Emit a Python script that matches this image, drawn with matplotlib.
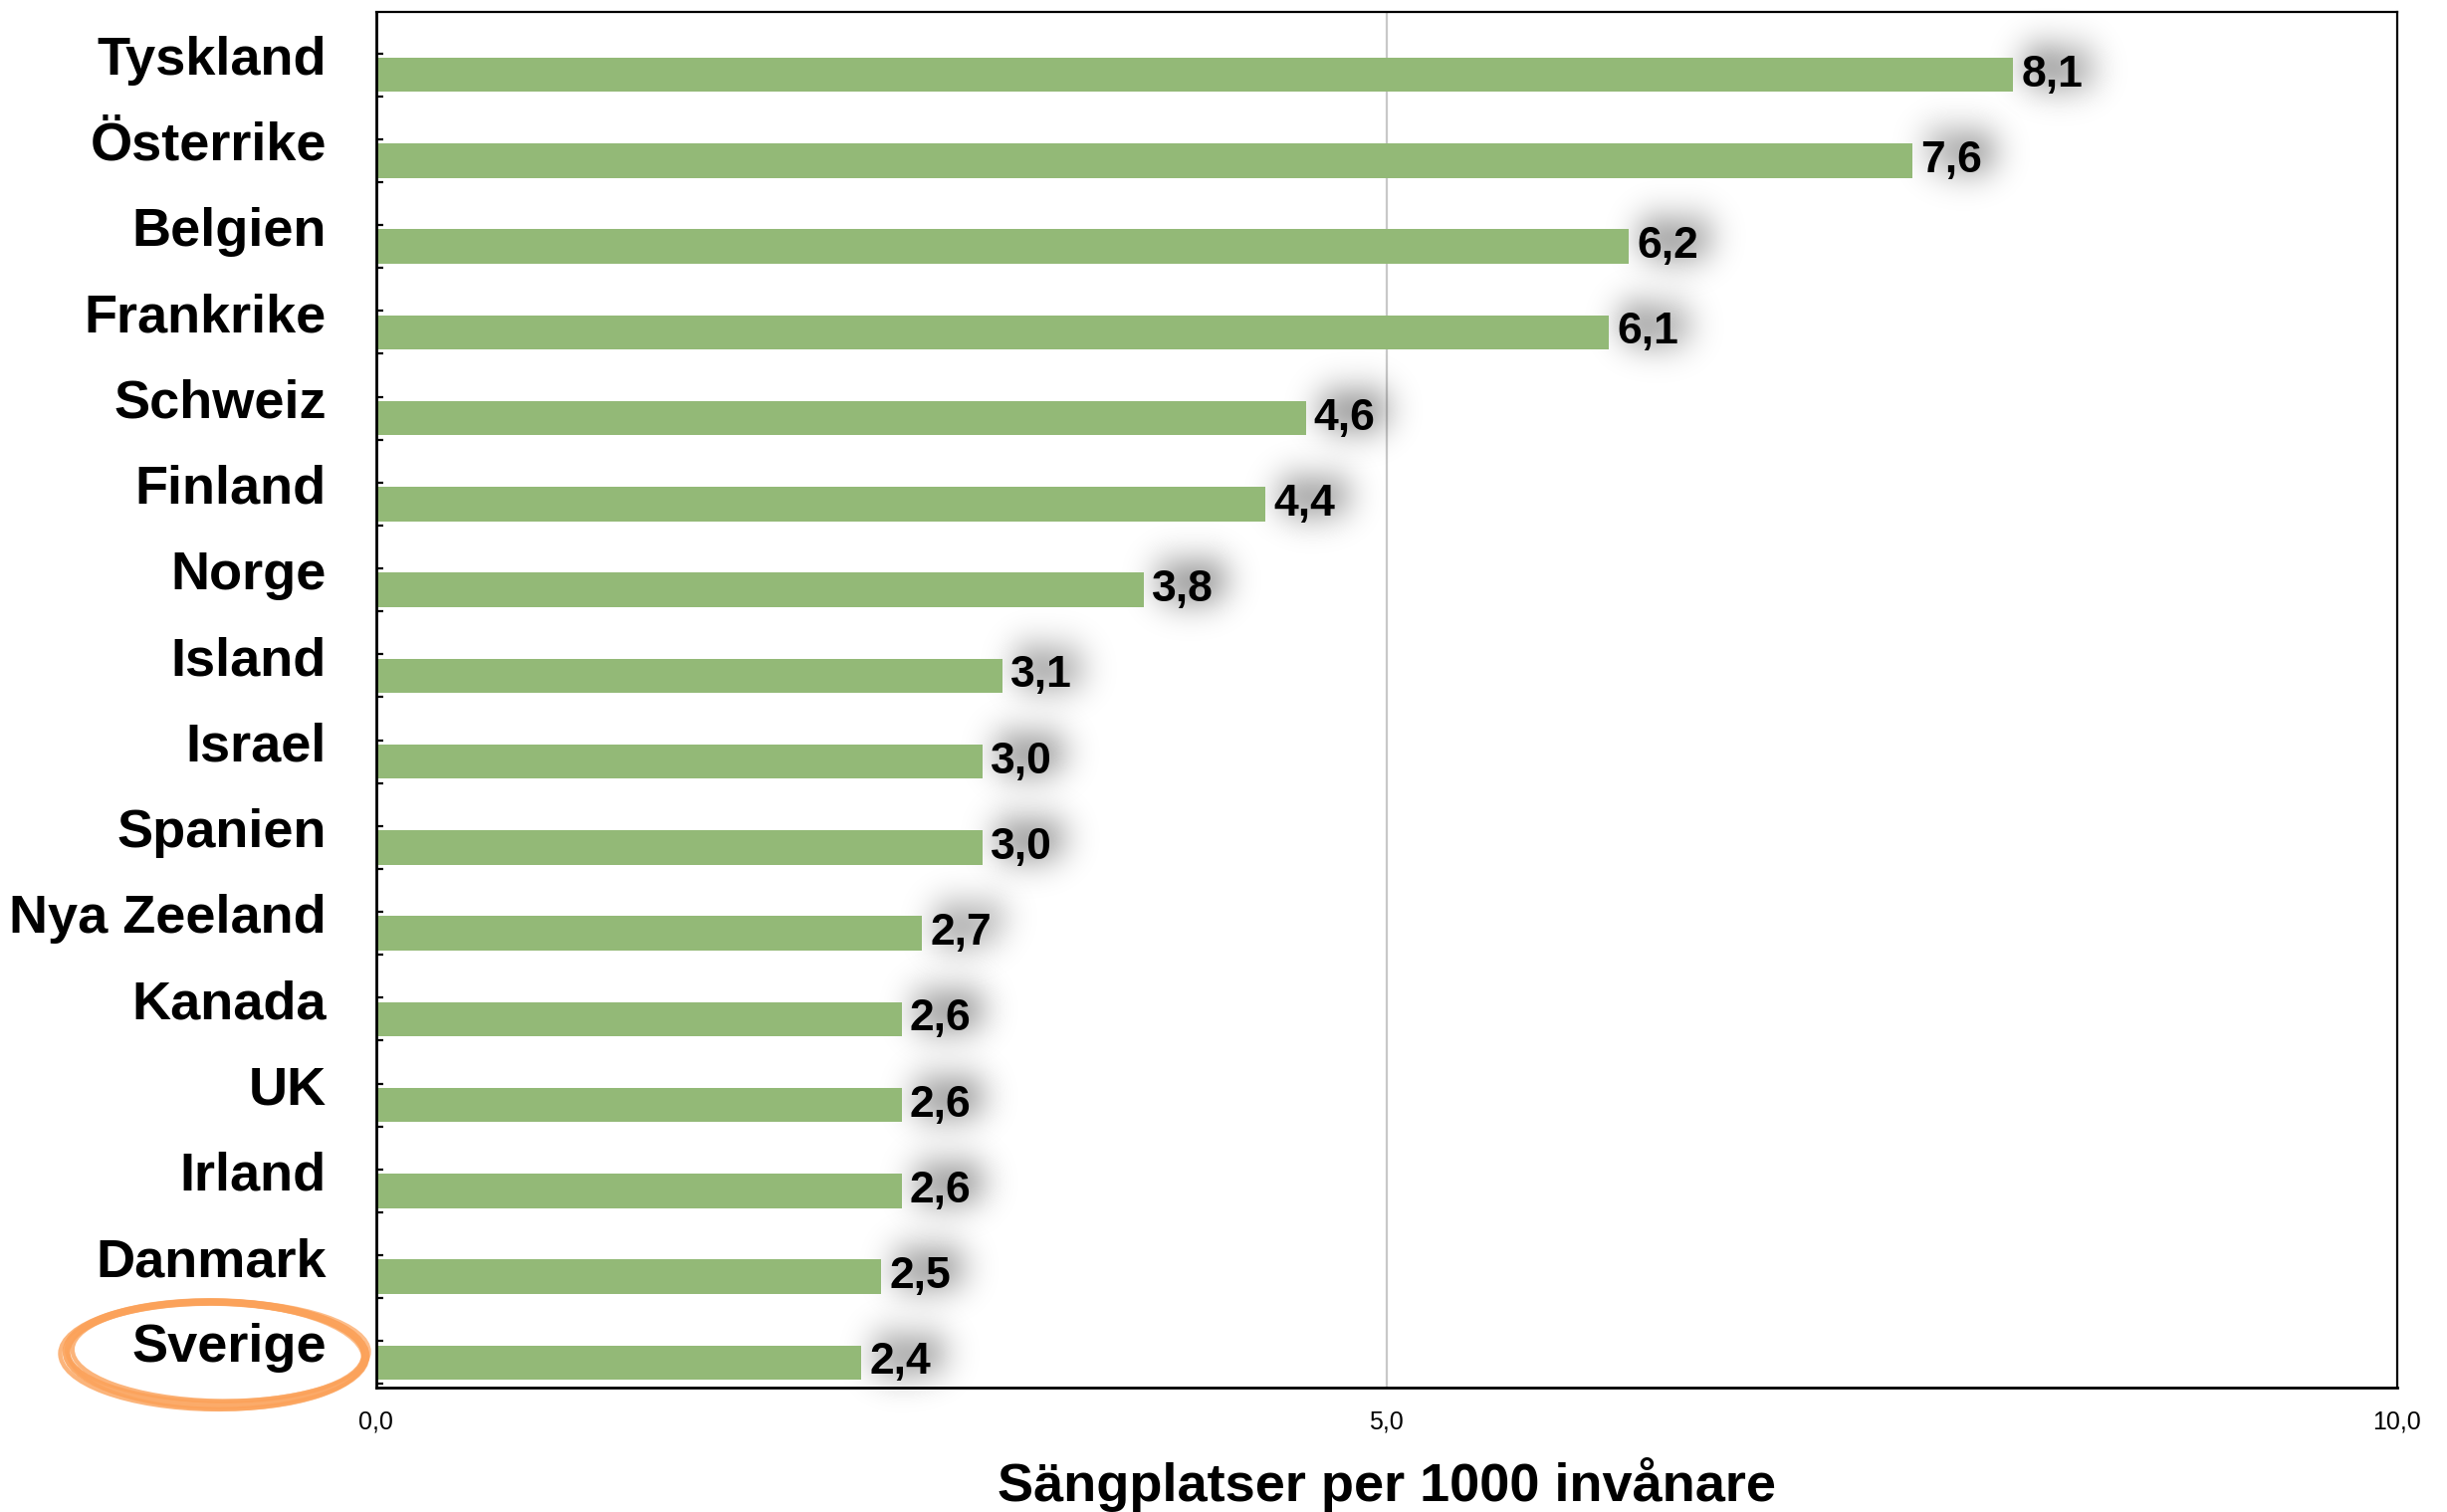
import numpy as np
import matplotlib
matplotlib.use("Agg")
import matplotlib.pyplot as plt
from matplotlib.patches import Ellipse

plt.rcParams['font.family'] = ['Liberation Sans', 'DejaVu Sans']

countries = ['Tyskland', 'Österrike', 'Belgien', 'Frankrike', 'Schweiz', 'Finland',
             'Norge', 'Island', 'Israel', 'Spanien', 'Nya Zeeland', 'Kanada',
             'UK', 'Irland', 'Danmark', 'Sverige']
values = [8.1, 7.6, 6.2, 6.1, 4.6, 4.4, 3.8, 3.1, 3.0, 3.0, 2.7, 2.6, 2.6, 2.6, 2.5, 2.4]
xticks = [0, 5, 10]
xticklabels = ['0,0', '5,0', '10,0']
xlabel = 'Sängplatser per 1000 invånare'

bar_color = '#93b977'


def shadow_filter(im, dpi, sigma=18, shift=(8, 6), strength=1.4):
    # blurred, shifted copy of the rendered text (drop shadow)
    pad = int(3 * sigma) + max(abs(shift[0]), abs(shift[1]))
    a = np.pad(im[:, :, 3], pad)
    k = np.exp(-0.5 * (np.arange(-3 * sigma, 3 * sigma + 1) / sigma) ** 2)
    k /= k.sum()
    a = np.apply_along_axis(lambda r: np.convolve(r, k, mode='same'), 0, a)
    a = np.apply_along_axis(lambda r: np.convolve(r, k, mode='same'), 1, a)
    a = np.roll(a, shift[0], axis=1)
    a = np.roll(a, -shift[1], axis=0)
    out = np.zeros(a.shape + (4,))
    out[:, :, 3] = np.clip(a * strength, 0, 0.45)
    return out, -pad, -pad


fig = plt.figure(figsize=(12.29, 7.595), dpi=200)
ax = fig.add_axes([0.1537, 0.0824, 0.9796 - 0.1537, 0.9918 - 0.0824])

n = len(countries)
y = np.arange(n)[::-1]
ax.barh(y, values, height=0.4, color=bar_color, zorder=2)

for yi, v in zip(y, values):
    label = f"{v:.1f}".replace('.', ',')
    sh = ax.text(v + 0.04, yi, label, va='center', ha='left',
                 fontsize=16, fontweight='bold', color='black', zorder=1.5)
    sh.set_agg_filter(shadow_filter)
    ax.text(v + 0.04, yi, label, va='center', ha='left',
            fontsize=16, fontweight='bold', color='black', zorder=4)

ax.set_xlim(0, 10)
ax.set_ylim(-0.29, n - 1 + 0.726)

ax.set_xticks(xticks)
ax.set_xticklabels(xticklabels, fontsize=9)
ax.tick_params(axis='x', length=0, pad=8)
ax.axvline(5, color='#c8c8c8', linewidth=0.8, zorder=1)

ax.set_yticks(y + 0.23)
ax.set_yticklabels(countries, fontsize=19.5, fontweight='bold')
ax.set_yticks(np.concatenate([y - 0.25, y + 0.25]), minor=True)
ax.tick_params(axis='y', which='major', length=0, pad=18)
ax.tick_params(axis='y', which='minor', direction='in', length=2.5, width=0.8)

ax.set_xlabel(xlabel, fontsize=19.5, fontweight='bold', labelpad=8.5)

for side in ['left', 'bottom']:
    ax.spines[side].set_linewidth(1.0)
for side in ['top', 'right']:
    ax.spines[side].set_linewidth(0.8)

# hand-drawn style ring around Sverige: several strokes form a brush band
strokes = [(0.000, 0.000, 0.000, 0.000, -1.5, 2.8, 0.9),
           (0.001, 0.001, -0.004, -0.004, -2.0, 1.6, 0.8),
           (-0.001, -0.001, 0.004, 0.004, -1.0, 1.6, 0.8),
           (0.000, -0.002, -0.002, 0.002, -2.5, 1.2, 0.7),
           (0.001, 0.002, 0.002, -0.002, -0.5, 1.2, 0.7)]
for dx, dy, dw, dh, ang, lw, a in strokes:
    ring = Ellipse((-0.0793 + dx, 0.0246 + dy), 0.148 + dw, 0.075 + dh, angle=ang,
                   transform=ax.transAxes, fill=False, edgecolor='#fba25a',
                   linewidth=lw, alpha=a, clip_on=False, zorder=5)
    ax.add_patch(ring)

fig.savefig('out.png', dpi=200)
